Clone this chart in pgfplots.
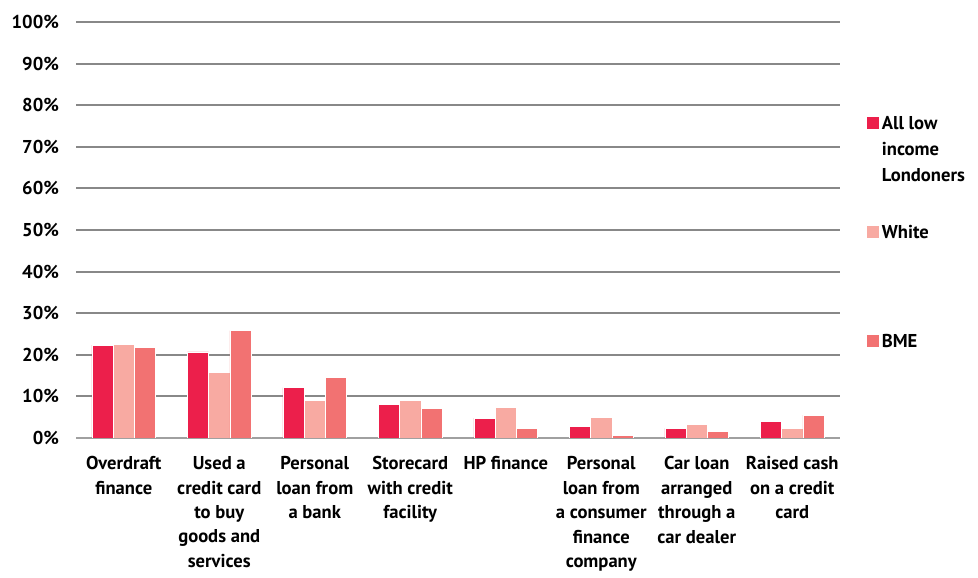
\documentclass[border=0pt]{standalone}
\usepackage{pgfplots}
\pgfplotsset{compat=1.18}
\usepackage{fontspec}
\setmainfont{PT Sans}

\definecolor{allc}{HTML}{EC1F4B}
\definecolor{whitec}{HTML}{F8AAA2}
\definecolor{bmec}{HTML}{F27272}
\definecolor{gridc}{HTML}{888888}

\newcommand{\legtxt}[3]{\begin{tabular}[t]{@{}l@{}}#1\\#2\\#3\end{tabular}}

\begin{document}
\begin{tikzpicture}
\begin{axis}[
  at={(0,0)}, anchor=south west,
  scale only axis,
  width=382pt, height=208pt,
  ybar=0pt, bar width=10.6pt,
  xmin=-0.5, xmax=7.5,
  ymin=0, ymax=100,
  xtick={0,...,7},
  xticklabels={
    Overdraft\\finance,
    Used a\\credit card\\to buy\\goods and\\services,
    Personal\\loan from\\a bank,
    Storecard\\with credit\\facility,
    HP finance,
    Personal\\loan from\\a consumer\\finance\\company,
    Car loan\\arranged\\through a\\car dealer,
    Raised cash\\on a credit\\card},
  ytick={0,10,...,100},
  yticklabels={0\%,10\%,20\%,30\%,40\%,50\%,60\%,70\%,80\%,90\%,100\%},
  tick style={draw=none},
  axis line style={draw=none},
  ymajorgrids=true,
  grid style={gridc, line width=1pt},
  extra y ticks={0},
  extra y tick labels={},
  extra y tick style={grid style={gridc!80, line width=1.2pt}},
  xticklabel style={font=\bfseries\fontsize{9.3}{12.2}\selectfont, align=center, yshift=-1.5pt},
  yticklabel style={font=\bfseries\fontsize{9.3}{11}\selectfont, xshift=-5pt},
  legend style={draw=none, fill=none, at={(1.026,0.806)}, anchor=north west,
    font=\bfseries\fontsize{9.3}{13}\selectfont,
    cells={anchor=base west}, row sep=42.5pt,
    /tikz/every odd column/.append style={column sep=-1pt}},
  legend image code/.code={\fill[#1] (0pt,0pt) rectangle (6.5pt,6.5pt);},
]
\addplot[fill=allc, draw=white, line width=0.3pt] coordinates {
  (0,22.3) (1,20.7) (2,12.1) (3,8.0) (4,4.8) (5,2.7) (6,2.3) (7,4.0)};
\addlegendentry{\legtxt{All low}{income}{Londoners}}
\addplot[fill=whitec, draw=white, line width=0.3pt] coordinates {
  (0,22.5) (1,15.8) (2,9.1) (3,9.1) (4,7.4) (5,4.9) (6,3.2) (7,2.4)};
\addlegendentry{White}
\addplot[fill=bmec, draw=white, line width=0.3pt] coordinates {
  (0,21.7) (1,25.8) (2,14.5) (3,7.2) (4,2.3) (5,0.7) (6,1.5) (7,5.5)};
\addlegendentry{BME}
\end{axis}
\path[use as bounding box] (-38pt,-66.5pt) rectangle (451pt,219pt);
\end{tikzpicture}
\end{document}
